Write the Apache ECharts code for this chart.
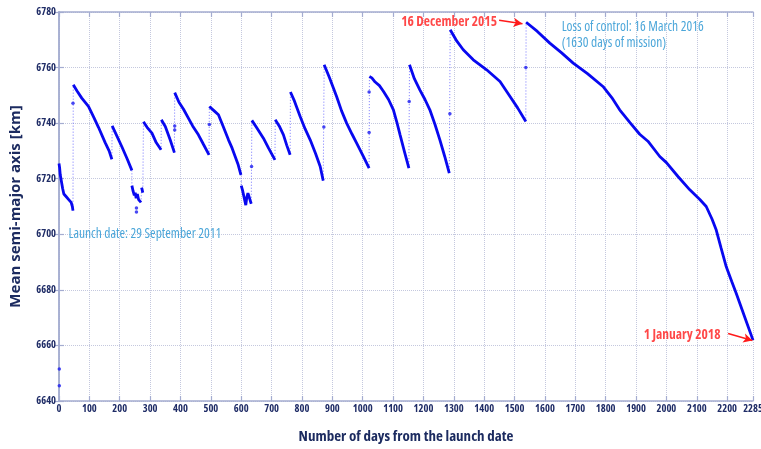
<!DOCTYPE html>
<html>
<head>
<meta charset="utf-8">
<script src="https://cdn.jsdelivr.net/npm/echarts@6/dist/echarts.min.js"></script>
<style>html,body{margin:0;padding:0;background:#fff;}#c{width:761px;height:449px;}</style>
</head>
<body>
<div id="c"></div>
<script>
// ---- data: [day, mean semi-major axis km] ----
const seg1 = [[0,6725.5],[2,6724],[4,6721.5],[8,6719],[12,6716.5],[16,6714.5],[20,6715],[24,6713.5],[28,6714],[32,6712.5],[36,6712],[40,6711.5],[44,6710],[46,6708.5]];
const seg2 = [[47,6753.8],[60,6751.5],[75,6749],[97,6746],[115,6742],[130,6738.5],[152,6733],[165,6730],[174,6727]];
const seg3 = [[175,6739],[190,6735.5],[207,6731.5],[225,6727],[240,6723]];
const dropA = [[240,6717.5],[244,6715.5],[248,6714],[251,6715],[254,6713],[258,6714.5],[262,6712.5],[266,6712],[270,6711.5]];
const miniA = [[272,6716.8],[276,6715]];
const seg4 = [[278,6740.5],[290,6738.5],[306,6736.4],[320,6733],[336,6730.4]];
const seg5 = [[337,6741.2],[350,6738.8],[366,6734],[380,6729.4]];
const seg6 = [[381,6751],[395,6747.5],[410,6745],[426,6741.8],[440,6739],[459,6735.8],[475,6732.5],[494,6728.6]];
const seg7 = [[495,6746],[510,6744.5],[525,6743],[540,6739],[558,6734],[570,6731],[580,6728],[590,6725],[599,6721.4]];
const dropB = [[600,6717.5],[604,6716],[608,6714],[612,6712],[615,6710.5],[618,6713],[622,6714.8],[626,6713.5],[630,6712],[633,6711]];
const seg8 = [[635,6741],[650,6738.5],[673,6734.6],[690,6731],[711,6726.8]];
const seg9 = [[712,6741.2],[725,6739],[739,6735.8],[750,6732],[761,6728.6]];
const seg10 = [[762,6751.2],[775,6748],[794,6742.4],[810,6738],[827,6734],[845,6729],[860,6724.4],[870,6719.3]];
const seg11 = [[873,6761],[890,6756.5],[914,6749.6],[930,6744.5],[947,6740],[965,6736],[980,6732.8],[1002,6728],[1021,6723.8]];
const seg12 = [[1022,6756.8],[1030,6756.3],[1041,6754.8],[1055,6753.5],[1068,6751.5],[1085,6748.5],[1101,6744.8],[1112,6740.5],[1123,6735.8],[1138,6729.5],[1152,6723.8]];
const seg13 = [[1154,6761],[1170,6756],[1188,6752],[1205,6748.5],[1221,6744.8],[1238,6739.5],[1254,6734],[1270,6728],[1285,6722]];
const seg14 = [[1288,6773.6],[1310,6769.5],[1331,6766.4],[1364,6762.8],[1408,6759.2],[1452,6755],[1485,6749.6],[1510,6745.5],[1537,6740.6]];
const seg15 = [[1538,6776.3],[1575,6773],[1616,6768.8],[1655,6765.3],[1693,6761.6],[1740,6757.8],[1791,6753.2],[1820,6749.2],[1846,6744.8],[1880,6740.2],[1912,6736],[1939,6733.5],[1978,6728],[2000,6725.8],[2038,6720.8],[2077,6716],[2110,6712.5],[2131,6710],[2150,6705.5],[2164,6701.5],[2180,6695],[2197,6688.3],[2215,6683],[2230,6678.7],[2260,6669.5],[2285,6661.9]];
const isolated = [[1,6651.5],[1,6645.5],[46,6747.2],[255,6709.5],[255,6708],[381,6737.5],[381,6739],[495,6739.5],[634,6724.4],[872,6738.6],[1021,6751.2],[1021,6736.6],[1153,6747.8],[1287,6743.4],[1537,6760]];

const xMin = 0, xMax = 2285, xStep = 100;
const yMin = 6640, yMax = 6780, yStep = 20;

const labels = [
  {text:'16 December 2015', at:[1442,6776.5], color:'#ff1a1a', align:'right', bold:true},
  {text:'Loss of control: 16 March 2016', at:[1655,6774.6], color:'#1e90d0', align:'left', bold:false},
  {text:'(1630 days of mission)', at:[1655,6768.8], color:'#1e90d0', align:'left', bold:false},
  {text:'Launch date: 29 September 2011', at:[31,6700.1], color:'#1e90d0', align:'left', bold:false},
  {text:'1 January 2018', at:[2178,6663.7], color:'#ff1a1a', align:'right', bold:true}
];
const arrows = [
  [[1449,6777],[1526,6775.8]],
  [[2203,6664.3],[2283,6661.8]]
];

// ---- build series data ----
const segments = [seg1,seg2,seg3,dropA,miniA,seg4,seg5,seg6,seg7,dropB,seg8,seg9,seg10,seg11,seg12,seg13,seg14,seg15];
const mainData = [];
segments.forEach((s,i)=>{ if(i>0) mainData.push(null); s.forEach(p=>mainData.push(p)); });
const jumpData = [];
for (let i=1;i<segments.length;i++){
  const a = segments[i-1][segments[i-1].length-1], b = segments[i][0];
  jumpData.push(a, b, null);
}

const FONT = "'Open Sans', 'DejaVu Sans', sans-serif";
const BOLDC = 'bold condensed';
const NORMC = 'normal condensed';
const AX = '#a4acd0';
const LBL = '#1f2c66';
const fmt = v => String(Math.round(v));

const chart = echarts.init(document.getElementById('c'), null, {renderer:'canvas'});
const baseX = {type:'value', min:xMin, max:xMax, interval:xStep};
const baseY = {type:'value', min:yMin, max:yMax, interval:yStep};
chart.setOption({
  animation:false,
  backgroundColor:'#fff',
  grid:{left:59, right:8, top:12, bottom:48, containLabel:false, outerBoundsMode:'none'},
  xAxis:[
    Object.assign({}, baseX, {
      position:'bottom',
      name:'Number of days from the launch date', nameLocation:'middle', nameGap:28,
      nameTextStyle:{fontFamily:FONT, fontSize:15, fontWeight:BOLDC, color:'#1c2b60'},
      axisLine:{show:true, lineStyle:{color:AX, width:1.5}},
      axisTick:{show:true, inside:true, length:5, lineStyle:{color:AX, width:1.2}},
      axisLabel:{show:true, interval:0, showMaxLabel:true, hideOverlap:false, margin:3, formatter:fmt,
        fontFamily:FONT, fontSize:10.5, fontWeight:BOLDC, color:LBL},
      splitLine:{show:true, lineStyle:{color:'#c4c8de', type:'dotted', width:1}}
    }),
    Object.assign({}, baseX, {
      position:'top',
      axisLine:{show:true, lineStyle:{color:AX, width:1.5}},
      axisTick:{show:true, inside:true, length:5, lineStyle:{color:AX, width:1.2}},
      axisLabel:{show:false}, splitLine:{show:false}
    })
  ],
  yAxis:[
    Object.assign({}, baseY, {
      position:'left',
      name:'Mean semi-major axis [km]', nameLocation:'middle', nameGap:36,
      nameTextStyle:{fontFamily:FONT, fontSize:15, fontWeight:'bold', color:'#1c2b60'},
      axisLine:{show:true, lineStyle:{color:AX, width:1.5}},
      axisTick:{show:true, inside:true, length:5, lineStyle:{color:AX, width:1.2}},
      axisLabel:{show:true, margin:3, formatter:fmt, fontFamily:FONT, fontSize:10.5, fontWeight:BOLDC, color:LBL},
      splitLine:{show:true, lineStyle:{color:'#c4c8de', type:'dotted', width:1}}
    }),
    Object.assign({}, baseY, {
      position:'right',
      axisLine:{show:true, lineStyle:{color:AX, width:1.5}},
      axisTick:{show:true, inside:true, length:5, lineStyle:{color:AX, width:1.2}},
      axisLabel:{show:false}, splitLine:{show:false}
    })
  ],
  series:[
    {type:'line', name:'jumps', data:jumpData, connectNulls:false, showSymbol:false, silent:true,
     lineStyle:{color:'#3a3aff', width:1, type:[1,2], opacity:0.7}, z:2},
    {type:'line', name:'sma', data:mainData, connectNulls:false, showSymbol:false, silent:true,
     lineStyle:{color:'#0808f0', width:2.8}, z:3,
     markLine:{silent:true, symbol:['none','arrow'], symbolSize:[7,9], label:{show:false},
       lineStyle:{color:'#ff1a1a', type:'solid', width:1.5},
       data: arrows.map(a=>[{coord:a[0]},{coord:a[1]}])}
    },
    {type:'scatter', name:'isolated', data:isolated, symbolSize:3.5, silent:true,
     itemStyle:{color:'#1a1af0'}, z:3},
    {type:'scatter', name:'labels', silent:true, symbolSize:0, z:5,
     data: labels.map(l=>({value:l.at, label:{show:true, formatter:l.text, position:'inside',
       align:l.align, verticalAlign:'middle', color:l.color, fontFamily:FONT, fontSize:13.5,
       fontWeight: l.bold ? BOLDC : NORMC}}))}
  ]
});
</script>
</body>
</html>
